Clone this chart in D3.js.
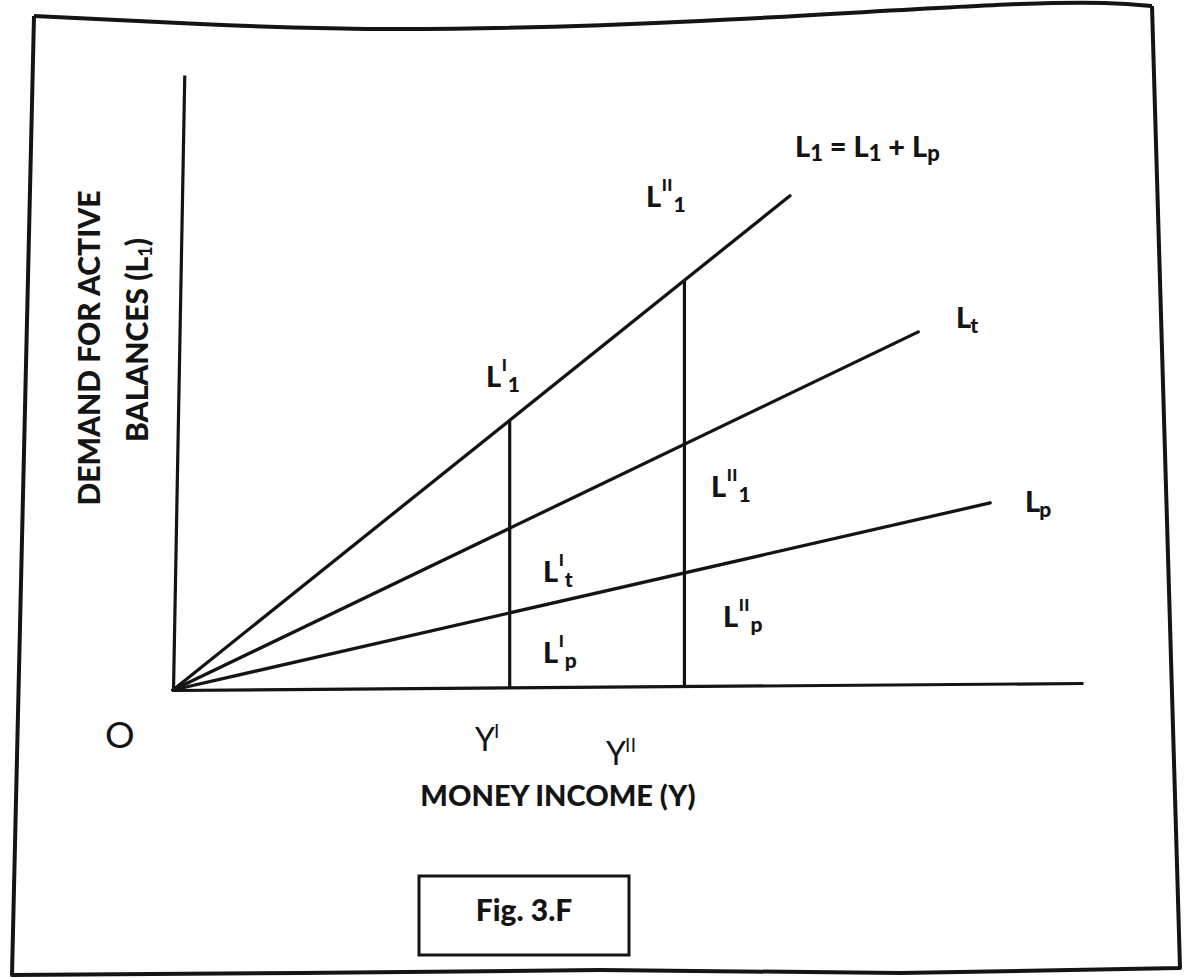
<!DOCTYPE html>
<html>
<head>
<meta charset="utf-8">
<script src="https://cdn.jsdelivr.net/npm/d3@7"></script>
<style>
  html, body { margin: 0; padding: 0; background: #ffffff; }
  svg { display: block; }
  text { fill: #141414; }
</style>
</head>
<body>
<svg id="chart" width="1184" height="978"></svg>
<script>
// ---------------- data ----------------
const lineNames   = ["L1", "Lt", "Lp"];          // total, transactions, precautionary
const lineEndX    = [67.8, 81.9, 89.8];          // money income at end of each line
const lineEndY    = [79.6, 57.3, 29.4];          // demand at end of each line
const incomeLevels = [37.0, 56.2];               // Y', Y''
const incomeTickLabels = ["Y", "Y"];
const incomeTickPrimes = ["I", "II"];
const incomeDomain = [0, 100];
const demandDomain = [0, 100];

// ---------------- layout ----------------
const origin = { x: 173, y: 690 };
const plotW = 910, plotH = 615;
const svg = d3.select("#chart");
const ink = "#141414";
const boldFont = "Lato, 'Open Sans', sans-serif";

// photographed-page frame
const frameTop = [[34,16],[200,24],[400,29],[700,21],[1020,4],[1152,6]];
const frameRest = [[1152,6],[1180,968],[900,973],[600,970],[300,973],[12,975],[34,16]];
svg.append("path")
  .attr("d", d3.line().curve(d3.curveNatural)(frameTop))
  .attr("fill", "none").attr("stroke", ink).attr("stroke-width", 4);
svg.append("path")
  .attr("d", d3.line()(frameRest))
  .attr("fill", "none").attr("stroke", ink).attr("stroke-width", 4)
  .attr("stroke-linejoin", "round");

// scales
const x = d3.scaleLinear().domain(incomeDomain).range([0, plotW]);
const y = d3.scaleLinear().domain(demandDomain).range([0, -plotH]);

// chart group (slight page tilt of the photo)
const g = svg.append("g")
  .attr("transform", `translate(${origin.x},${origin.y}) skewY(-0.44)`);

// x axis
const xAxis = g.append("g").call(d3.axisBottom(x).ticks(0).tickSizeOuter(0));
xAxis.select(".domain").attr("stroke", ink).attr("stroke-width", 3.2);

// y axis (hand-drawn lean)
const yAxis = g.append("g").attr("transform", "skewX(-1.05)")
  .call(d3.axisLeft(y).ticks(0).tickSizeOuter(0));
yAxis.select(".domain").attr("stroke", ink).attr("stroke-width", 3.2);

// rays from origin
const lineGen = d3.line().x(d => x(d[0])).y(d => y(d[1]));
lineNames.forEach((name, i) => {
  g.append("path")
    .attr("d", lineGen([[0, 0], [lineEndX[i], lineEndY[i]]]))
    .attr("fill", "none").attr("stroke", ink).attr("stroke-width", 3.3)
    .attr("stroke-linecap", "round");
});

// verticals at Y' and Y''
const slopeL1 = lineEndY[0] / lineEndX[0];
incomeLevels.forEach(v => {
  g.append("line")
    .attr("x1", x(v)).attr("x2", x(v))
    .attr("y1", y(0)).attr("y2", y(v * slopeL1))
    .attr("stroke", ink).attr("stroke-width", 3.2);
});

// ---------------- labels ----------------
function symLabel(lx, base, sup, sub, size) {
  const t = svg.append("text").attr("x", lx).attr("y", base)
    .attr("font-family", boldFont).attr("font-weight", 900)
    .attr("font-size", size).text("L");
  const w = t.node().getComputedTextLength();
  let sw = 0;
  if (sup) {
    const s = svg.append("text").attr("x", lx + w + 0.5).attr("y", base - 16)
      .attr("font-family", boldFont).attr("font-weight", 900)
      .attr("font-size", 17).attr("letter-spacing", 0.5).text(sup);
    sw = s.node().getComputedTextLength();
  }
  if (sub) {
    svg.append("text").attr("x", lx + w + (sup ? sw + 1 : -1)).attr("y", base + 5)
      .attr("font-family", boldFont).attr("font-weight", 900)
      .attr("font-size", 21).text(sub);
  }
}
const fs = 29;
symLabel(486, 387, "I", "1", fs);
symLabel(646, 207, "II", "1", fs);
symLabel(711, 497, "II", "1", fs);
symLabel(543, 582, "I", "t", fs);
symLabel(543, 663, "I", "p", fs);
symLabel(723, 627, "II", "p", fs);
symLabel(956, 328, null, "t", fs);
symLabel(1025, 512, null, "p", fs);

// equation label
const eq = svg.append("text").attr("x", 795).attr("y", 157)
  .attr("font-family", boldFont).attr("font-weight", 900).attr("font-size", fs);
eq.append("tspan").text("L");
eq.append("tspan").attr("dy", 4).attr("font-size", 22).text("1");
eq.append("tspan").attr("dy", -4).text(" = L");
eq.append("tspan").attr("dy", 4).attr("font-size", 22).text("1");
eq.append("tspan").attr("dy", -4).text(" + L");
eq.append("tspan").attr("dy", 4).attr("font-size", 22).text("p");

// origin and income marks
svg.append("text").attr("x", 105).attr("y", 748)
  .attr("font-family", "Lato, sans-serif").attr("font-size", 37).text("O");
const yTickBase = [751, 765];
const yLabelX = [475, 606];
incomeTickLabels.forEach((lab, i) => {
  const t = svg.append("text").attr("x", yLabelX[i]).attr("y", yTickBase[i])
    .attr("font-family", "Lato, sans-serif").attr("font-size", 32).text(lab);
  const w = t.node().getComputedTextLength();
  svg.append("text").attr("x", yLabelX[i] + w - 1).attr("y", yTickBase[i] - 13)
    .attr("font-family", "Lato, sans-serif").attr("font-size", 19)
    .attr("letter-spacing", 0.5).text(incomeTickPrimes[i]);
});

// axis titles
svg.append("text").attr("x", 558).attr("y", 806).attr("text-anchor", "middle")
  .attr("font-family", boldFont).attr("font-weight", 900).attr("font-size", 29)
  .text("MONEY INCOME (Y)");

svg.append("text").attr("transform", "translate(100,348) rotate(-90)")
  .attr("text-anchor", "middle")
  .attr("font-family", boldFont).attr("font-weight", 900).attr("font-size", 30)
  .text("DEMAND FOR ACTIVE");
const yt2 = svg.append("text").attr("transform", "translate(148,340) rotate(-90)")
  .attr("text-anchor", "middle")
  .attr("font-family", boldFont).attr("font-weight", 900).attr("font-size", 30);
yt2.append("tspan").text("BALANCES (L");
yt2.append("tspan").attr("dy", 4).attr("font-size", 18).text("1");
yt2.append("tspan").attr("dy", -4).text(")");

// figure caption box
svg.append("rect").attr("x", 419).attr("y", 876).attr("width", 210).attr("height", 79)
  .attr("fill", "none").attr("stroke", ink).attr("stroke-width", 3);
svg.append("text").attr("x", 524).attr("y", 921).attr("text-anchor", "middle")
  .attr("font-family", boldFont).attr("font-weight", 900).attr("font-size", 30)
  .text("Fig. 3.F");
</script>
</body>
</html>
